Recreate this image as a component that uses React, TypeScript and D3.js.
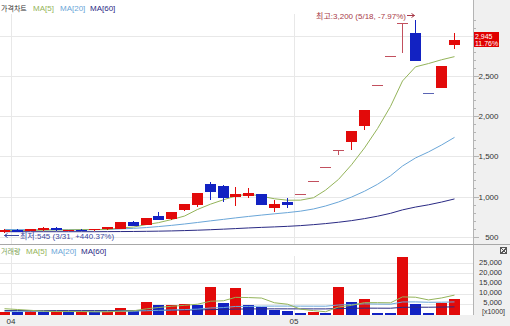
import React from 'react';
import * as d3 from 'd3';

// ---------- data ----------
const monthLabels = ['04', '05'];
const monthStartIdx = [1, 23];

const opens = [560, 585, 575, 578, 612, 575, 585, 580, 590, 600, 680, 645, 758, 717, 833, 896, 1158, 1133, 999, 1012, 1029, 862, 937, 1033, 1190, 1368, 1575, 1682, 1882, 2390, 2750, 3160, 3040, 2285, 2352, 2880];
const highs = [595, 590, 600, 615, 625, 588, 590, 598, 620, 685, 690, 735, 812, 810, 910, 1045, 1186, 1140, 1124, 1104, 1035, 958, 980, 1033, 1190, 1368, 1575, 1810, 2080, 2390, 2750, 3160, 3200, 2285, 2625, 3040];
const lows = [545, 555, 565, 575, 572, 565, 570, 575, 585, 595, 630, 640, 705, 712, 825, 874, 958, 937, 887, 979, 890, 812, 858, 1033, 1190, 1368, 1520, 1573, 1832, 2390, 2750, 2790, 2690, 2285, 2352, 2830];
const closes = [585, 560, 590, 612, 578, 582, 578, 592, 615, 680, 636, 730, 712, 805, 904, 1042, 1062, 987, 1029, 1042, 896, 904, 900, 1033, 1190, 1368, 1575, 1810, 2080, 2390, 2750, 3160, 2690, 2285, 2625, 2945];

const ma5 = [578, 576, 578, 582, 585, 584, 588, 588, 589, 609, 620, 651, 675, 713, 757, 839, 905, 960, 1005, 1032, 1003, 972, 954, 955, 985, 1079, 1213, 1395, 1605, 1845, 2121, 2438, 2614, 2655, 2702, 2741];
const ma20 = [590, 588, 587, 586, 586, 586, 587, 589, 592, 597, 604, 614, 626, 641, 658, 677, 697, 716, 734, 752, 769, 785, 800, 818, 845, 882, 932, 993, 1066, 1152, 1258, 1380, 1480, 1555, 1641, 1736];
const ma60 = [562, 562, 562, 562, 562, 562, 562, 562, 563, 564, 565, 567, 569, 572, 576, 581, 587, 594, 601, 609, 616, 622, 629, 638, 650, 663, 680, 700, 725, 755, 791, 834, 869, 897, 931, 970];

const volumes = [900, 1200, 1700, 1000, 1200, 900, 1200, 900, 1200, 2800, 1700, 6000, 4200, 4300, 5000, 4500, 13300, 5300, 12700, 4500, 3300, 1800, 1700, 600, 800, 700, 13300, 5800, 7300, 700, 300, 27800, 5000, 700, 5500, 7300];
const volUp = [1, 0, 1, 0, 1, 0, 1, 0, 1, 1, 0, 1, 0, 1, 1, 0, 1, 0, 1, 0, 0, 0, 0, 0, 1, 0, 1, 0, 1, 0, 0, 1, 0, 0, 1, 1];
const volMa5 = [2600, 2200, 1800, 1400, 1200, 1200, 1200, 1040, 1080, 1400, 1560, 2520, 3180, 3800, 4240, 4800, 6260, 6480, 8160, 8060, 7820, 5500, 4800, 2380, 1640, 1120, 3420, 4240, 5580, 5560, 5480, 8380, 8220, 6900, 7860, 9260];
const volMa20 = [1300, 1300, 1290, 1280, 1280, 1270, 1270, 1260, 1260, 1330, 1360, 1600, 1780, 1960, 2180, 2380, 2950, 3150, 3700, 3720, 3840, 3870, 3870, 3850, 3830, 3820, 4420, 4670, 4970, 4870, 4800, 5890, 5930, 5750, 5780, 5920];
const volMa60 = [1700, 1700, 1700, 1690, 1690, 1680, 1680, 1680, 1680, 1700, 1710, 1780, 1830, 1880, 1940, 1990, 2160, 2230, 2420, 2470, 2510, 2520, 2520, 2510, 2500, 2490, 2690, 2770, 2870, 2850, 2830, 3270, 3330, 3320, 3400, 3500];

const priceTicks = [500, 1000, 1500, 2000, 2500];
const priceGrid = [500, 1000, 1500, 2000, 2500, 3000];
const volTicks = [5000, 10000, 15000, 20000, 25000];

const currentPrice = 2945;
const currentChange = '11.76%';
const highLabel = '최고:3,200 (5/18, -7.97%)';
const lowLabel = '최저:545 (3/31, +440.37%)';
const highIdx = 32;
const lowIdx = 0;

// ---------- styling ----------
const W = 510, H = 326;
const PLOT_R = 473;
const TOP_B = 244;
const VOL_T = 246, VOL_B = 315;
const RED = '#e20a0a';
const BLUE = '#1222c2';
const DOJI_UP = '#c2505e';
const DOJI_DN = '#5a64b4';
const C_MA5 = '#94b45a';
const C_MA20 = '#6aa6d8';
const C_MA60 = '#2a2a84';
const GRID = '#e8e8e8';
const FONT = "'Liberation Sans', 'Noto Sans CJK KR', Arial, sans-serif";

const fmt = d3.format(',');

export default function App() {
  const idx = d3.range(closes.length);
  const x = d3.scaleBand<number>().domain(idx).range([-0.85, -0.85 + 12.85 * (idx.length - 0.12)]).paddingInner(0.12).paddingOuter(0);
  const bw = Math.round(x.bandwidth());
  const rx = (i: number) => Math.round(x(i)!);
  const cx = (i: number) => rx(i) + Math.floor(bw / 2) + 0.5;

  const y = d3.scaleLinear().domain([500, 2500]).range([236.7, 76]);
  const vy = d3.scaleLinear().domain([0, 25000]).range([314, 263]);

  const linePrice = (arr: number[]) => d3.line<number>().x((_, i) => cx(i)).y(d => y(d))(arr) || '';
  const lineVol = (arr: number[]) => d3.line<number>().x((_, i) => cx(i)).y(d => vy(d))(arr) || '';

  const minorTicks = d3.range(400, 3201, 100);

  return (
    <div style={{ position: 'fixed', left: 0, top: 0 }}>
      <svg width={W} height={H} style={{ display: 'block', fontFamily: FONT }}>
        <defs>
          <clipPath id="cTop"><rect x={0} y={0} width={PLOT_R} height={TOP_B} /></clipPath>
          <clipPath id="cVol"><rect x={0} y={VOL_T} width={PLOT_R} height={VOL_B - VOL_T} /></clipPath>
        </defs>
        <rect x={0} y={0} width={W} height={H} fill="#ffffff" />
        {/* right axis panel and bottom strip */}
        <rect x={PLOT_R} y={0} width={W - PLOT_R} height={H} fill="#f0f0f0" />
        <rect x={0} y={VOL_B} width={W} height={H - VOL_B} fill="#f0f0f0" />

        {/* ---------- price pane ---------- */}
        <g shapeRendering="crispEdges">
          {priceGrid.map(p => (
            <line key={p} x1={0} x2={PLOT_R} y1={Math.round(y(p)) + 0.5} y2={Math.round(y(p)) + 0.5} stroke={GRID} />
          ))}
          {monthStartIdx.map(i => (
            <line key={i} x1={Math.round(x(i)! - 0.77) + 0.5} x2={Math.round(x(i)! - 0.77) + 0.5} y1={14} y2={TOP_B} stroke={GRID} />
          ))}
        </g>
        <g clipPath="url(#cTop)">
          <path d={linePrice(ma60)} fill="none" stroke={C_MA60} strokeWidth={1} />
          <path d={linePrice(ma20)} fill="none" stroke={C_MA20} strokeWidth={1} />
          <path d={linePrice(ma5)} fill="none" stroke={C_MA5} strokeWidth={1} />
          <g shapeRendering="crispEdges">
            {idx.map(i => {
              const o = opens[i], c = closes[i], h = highs[i], l = lows[i];
              const prev = i > 0 ? closes[i - 1] : o;
              if (o === c) {
                const col = c >= prev ? DOJI_UP : DOJI_DN;
                const yy = Math.round(y(c)) + 0.5;
                return (
                  <g key={i}>
                    <line x1={rx(i)} x2={rx(i) + bw} y1={yy} y2={yy} stroke={col} />
                    {(h !== l) && <line x1={cx(i)} x2={cx(i)} y1={Math.round(y(h))} y2={Math.round(y(l))} stroke={col} />}
                  </g>
                );
              }
              const col = c > o ? RED : BLUE;
              const top = Math.round(y(Math.max(o, c)));
              const bot = Math.round(y(Math.min(o, c)));
              return (
                <g key={i}>
                  <line x1={cx(i)} x2={cx(i)} y1={Math.round(y(h))} y2={Math.round(y(l))} stroke={col} />
                  <rect x={rx(i)} y={top} width={bw} height={Math.max(1, bot - top)} fill={col} />
                </g>
              );
            })}
          </g>
        </g>

        {/* annotations */}
        <text x={406} y={18.5} fontSize={8} fill="#a83a48" textAnchor="end">{highLabel}</text>
        <line x1={407} x2={cx(highIdx) - 1} y1={15.5} y2={15.5} stroke="#a83a48" />
        <path d={`M${cx(highIdx) - 4},13.5 L${cx(highIdx) - 1},15.5 L${cx(highIdx) - 4},17.5`} fill="none" stroke="#a83a48" />
        <line x1={cx(lowIdx)} x2={19} y1={235.5} y2={235.5} stroke="#3a48a0" />
        <path d={`M${cx(lowIdx) + 3},233.5 L${cx(lowIdx)},235.5 L${cx(lowIdx) + 3},237.5`} fill="none" stroke="#3a48a0" />
        <text x={20} y={238.5} fontSize={8} fill="#3a48a0">{lowLabel}</text>

        {/* legend */}
        <text x={1} y={11} fontSize={7} fill="#333">가격차트</text>
        <text x={33} y={11} fontSize={8} fill={C_MA5}>MA[5]</text>
        <text x={60} y={11} fontSize={8} fill={C_MA20}>MA[20]</text>
        <text x={90} y={11} fontSize={8} fill={C_MA60}>MA[60]</text>

        {/* price axis */}
        <g shapeRendering="crispEdges">
          <line x1={PLOT_R + 0.5} x2={PLOT_R + 0.5} y1={0} y2={VOL_B} stroke="#b4b4b4" />
          {minorTicks.map(p => (
            y(p) > 2 && y(p) < TOP_B - 1 ? (
              <line key={p} x1={PLOT_R} x2={PLOT_R + (p % 500 === 0 ? 6 : 3)} y1={Math.round(y(p)) + 0.5} y2={Math.round(y(p)) + 0.5} stroke="#b4b4b4" />
            ) : null
          ))}
        </g>
        {priceTicks.map(p => (
          <text key={p} x={498.5} y={y(p) + 3} fontSize={8} fill="#333" textAnchor="end">{fmt(p)}</text>
        ))}
        <rect x={474} y={Math.round(y(currentPrice)) - 8} width={25} height={15} fill="#e00000" />
        <text x={475} y={Math.round(y(currentPrice)) - 1.5} fontSize={7} fill="#fff">{fmt(currentPrice)}</text>
        <text x={475} y={Math.round(y(currentPrice)) + 5.5} fontSize={7} fill="#fff">{currentChange}</text>

        {/* pane separator */}
        <line x1={0} x2={W} y1={TOP_B + 0.5} y2={TOP_B + 0.5} stroke="#a8a8a8" shapeRendering="crispEdges" />

        {/* ---------- volume pane ---------- */}
        <g shapeRendering="crispEdges">
          {volTicks.map(v => (
            <line key={v} x1={0} x2={PLOT_R} y1={Math.round(vy(v)) + 0.5} y2={Math.round(vy(v)) + 0.5} stroke={GRID} />
          ))}
          {monthStartIdx.map(i => (
            <line key={i} x1={Math.round(x(i)! - 0.77) + 0.5} x2={Math.round(x(i)! - 0.77) + 0.5} y1={256} y2={VOL_B} stroke={GRID} />
          ))}
        </g>
        <g clipPath="url(#cVol)">
          <g shapeRendering="crispEdges">
            {idx.map(i => {
              const top = Math.round(vy(volumes[i]));
              const base = Math.round(vy(0)) + 1;
              return <rect key={i} x={rx(i)} y={top} width={bw} height={Math.max(1, base - top)} fill={volUp[i] ? RED : BLUE} />;
            })}
          </g>
          <path d={lineVol(volMa60)} fill="none" stroke={C_MA60} strokeWidth={1} />
          <path d={lineVol(volMa20)} fill="none" stroke={C_MA20} strokeWidth={1} />
          <path d={lineVol(volMa5)} fill="none" stroke={C_MA5} strokeWidth={1} />
        </g>
        <text x={1} y={254} fontSize={7} fill="#7aa050">거래량</text>
        <text x={26} y={254} fontSize={8} fill={C_MA5}>MA[5]</text>
        <text x={51} y={254} fontSize={8} fill={C_MA20}>MA[20]</text>
        <text x={81} y={254} fontSize={8} fill={C_MA60}>MA[60]</text>

        {volTicks.map(v => (
          <text key={v} x={502} y={vy(v) + 1.5} fontSize={7.5} fill="#333" textAnchor="end">{fmt(v)}</text>
        ))}
        <text x={505} y={314} fontSize={7} fill="#333" textAnchor="end">[x1000]</text>
        <g shapeRendering="crispEdges" stroke="#555" fill="none">
          <rect x={500.5} y={247.5} width={6} height={6} />
          <line x1={501.5} y1={248.5} x2={506} y2={253} />
          <line x1={506} y1={248.5} x2={501.5} y2={253} />
        </g>

        {/* x axis */}
        {monthStartIdx.map((i, k) => (
          <text key={i} x={Math.round(x(i)! - 0.77) - 4.5} y={324} fontSize={8} fill="#333">{monthLabels[k]}</text>
        ))}
      </svg>
    </div>
  );
}
